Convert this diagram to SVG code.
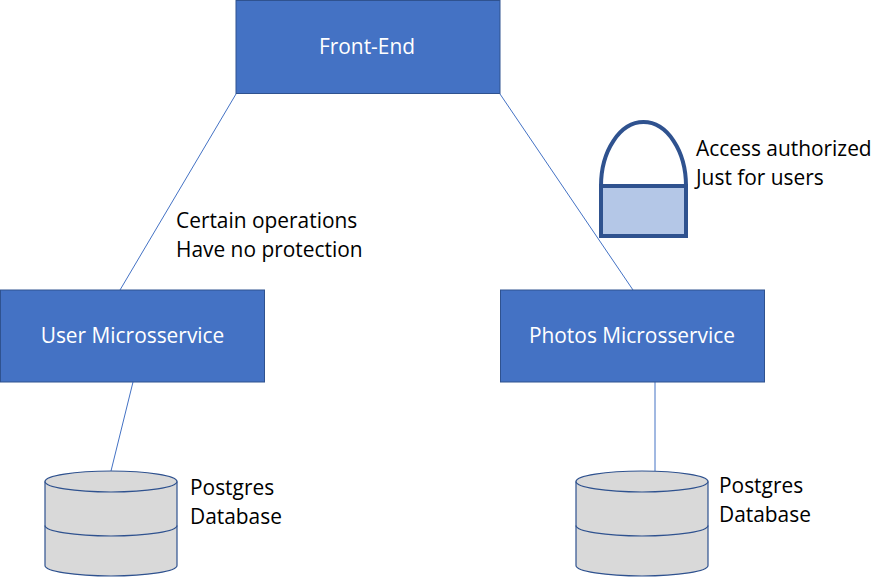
<svg xmlns="http://www.w3.org/2000/svg" width="887" height="577" viewBox="0 0 887 577">
<style>
.box{fill:#4472c4;stroke:#2f528f;stroke-width:1}
.w{fill:#fff;font:20.9px "Open Sans",sans-serif;text-anchor:middle}
.t{fill:#000;font:20.9px "Open Sans",sans-serif}
.db{fill:#d9d9d9;stroke:#2f528f;stroke-width:1.2}
.dl{fill:none;stroke:#2f528f;stroke-width:1.2}
.c{stroke:#4472c4;stroke-width:1;fill:none}
</style>
<rect width="887" height="577" fill="#fff"/>
<g id="connectors">
<line class="c" x1="236" y1="94" x2="120" y2="290"/>
<line class="c" x1="500" y1="94" x2="633" y2="290"/>
<line class="c" x1="133" y1="382" x2="111" y2="471"/>
<line class="c" x1="655" y1="382" x2="655" y2="471"/>
</g>
<g id="front-end"><rect class="box" x="236" y="0.5" width="264" height="93"/><text class="w" x="367" y="54">Front-End</text></g>
<g id="user-ms"><rect class="box" x="0.5" y="290" width="264" height="92"/><text class="w" x="132.500" y="343">User Microsservice</text></g>
<g id="photos-ms"><rect class="box" x="500.500" y="290" width="264" height="92"/><text class="w" x="632" y="343">Photos Microsservice</text></g>
<g id="db-user"><path class="db" d="M45 481.500A66 10.500 0 0 1 177 481.500V565.500A66 10.500 0 0 1 45 565.500Z"/><path class="dl" d="M45 481.500A66 10.500 0 0 0 177 481.500M45 525.500A66 10.500 0 0 0 177 525.500"/></g>
<g id="db-photos"><path class="db" d="M576 481.500A66 10.500 0 0 1 708 481.500V565.500A66 10.500 0 0 1 576 565.500Z"/><path class="dl" d="M576 481.500A66 10.500 0 0 0 708 481.500M576 525.500A66 10.500 0 0 0 708 525.500"/></g>
<g id="lock"><path d="M601 186A42.500 64 0 0 1 686 186" fill="none" stroke="#2f528f" stroke-width="4"/><rect x="601" y="186" width="85" height="50" fill="#b4c7e7" stroke="#2f528f" stroke-width="4"/></g>
<g id="labels">
<text class="t" x="176" y="228">Certain operations</text>
<text class="t" x="176" y="257">Have no protection</text>
<text class="t" x="696" y="156">Access authorized</text>
<text class="t" x="696" y="185">Just for users</text>
<text class="t" x="190" y="495">Postgres</text>
<text class="t" x="190" y="524">Database</text>
<text class="t" x="719" y="493">Postgres</text>
<text class="t" x="719" y="522">Database</text>
</g>
</svg>
